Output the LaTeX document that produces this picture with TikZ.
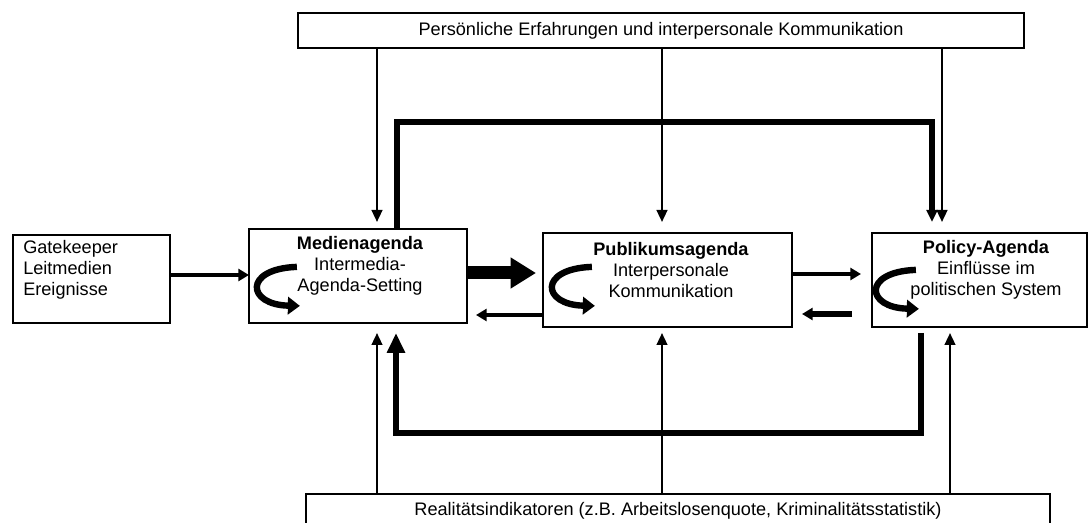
\documentclass[tikz,border=0pt]{standalone}
\usepackage{fontspec}
\setmainfont{Liberation Sans}
\usetikzlibrary{arrows.meta}
\begin{document}
\begin{tikzpicture}[x=0.75pt,y=-0.75pt,
  txt/.style={font=\fontsize{13.6}{15.75}\selectfont},
  frame/.style={draw,line width=1.7pt,inner sep=0pt},
  agbox/.style={frame,minimum height=70.5pt},
  agtext/.style={txt,align=center,inner sep=0pt},
  thinar/.style={line width=1.7pt,-{Triangle[length=9pt,width=8pt]}},
  midar/.style={line width=3pt,-{Triangle[length=8pt,width=9pt]}},
  bigar/.style={line width=9.75pt,-{Triangle[length=19pt,width=22pt]}},
  thickline/.style={line width=3.8pt},
  heavyline/.style={line width=5.2pt},
  looparrow/.style={line width=4.8pt,-{Triangle[length=9pt,width=13pt]}}
]
\useasboundingbox (0,0) rectangle (1089,523);

% information sources
\node[frame,txt,minimum width=544.5pt,minimum height=26.25pt] (pers) at (661,30.5)
  {Persönliche Erfahrungen und interpersonale Kommunikation};
\node[frame,txt,anchor=north,minimum width=558pt,text height=16pt,text depth=25pt] (real) at (678,493)
  {Realitätsindikatoren (z.B. Arbeitslosenquote, Kriminalitätsstatistik)};
\node[frame,minimum width=117.75pt,minimum height=66pt] (gate) at (91.5,279) {};
\node[txt,align=left,anchor=north west,inner sep=0pt] (gatet) at (23,240)
  {Gatekeeper\\Leitmedien\\Ereignisse};

% the three agendas
\node[agbox,minimum width=163.5pt] (med) at (358,276) {};
\node[agbox,minimum width=186.75pt] (pub) at (667.5,280) {};
\node[agbox,minimum width=161.25pt] (pol) at (979.5,280) {};

\node[agtext] (medt) at (360,266) {\textbf{Medienagenda}\\Intermedia-\\Agenda-Setting};
\node[agtext] (pubt) at (671,270) {\textbf{Publikumsagenda}\\Interpersonale\\Kommunikation};
\node[agtext] (polt) at (986,270) {\textbf{Policy-Agenda}\\Einflüsse im\\politischen System};

% self-referential loops inside the agenda boxes
\foreach \b/\dx/\dy in {med/49/39, pub/50/35, pol/45/38}{
  \draw[looparrow] ([shift={(\dx,\dy)}]\b.north west)
    .. controls ([shift={(\dx-54,\dy+2)}]\b.north west)
           and ([shift={(\dx-50,\dy+38)}]\b.north west)
    .. ([shift={(\dx+3,\dy+39)}]\b.north west);
}

% horizontal connections
\coordinate (g1) at (gate.east |- 0,275);
\coordinate (g2) at (249,275);
\draw[midar] (g1) -- (g2);
\coordinate (mp1) at (med.east |- 0,273);
\coordinate (mp2) at (536,273);
\draw[bigar] (mp1) -- (mp2);
\coordinate (pm1) at (pub.west |- 0,315);
\coordinate (pm2) at (476,315);
\draw[midar] (pm1) -- (pm2);
\coordinate (pp1) at (pub.east |- 0,274);
\coordinate (pp2) at (861,274);
\draw[midar] (pp1) -- (pp2);
\coordinate (qp1) at (852,314);
\coordinate (qp2) at (802,314);
\draw[midar,line width=4pt] (qp1) -- (qp2);

% influences from personal experience
\coordinate (t1) at (377,222);
\coordinate (t2) at (662,222);
\coordinate (t3) at (942,222);
\draw[thinar] (pers.south -| t1) -- (t1);
\draw[thinar] (pers.south -| t2) -- (t2);
\draw[thinar] (pers.south -| t3) -- (t3);

% influences from real-world indicators
\coordinate (b1) at (377,333);
\coordinate (b2) at (662,333);
\coordinate (b3) at (950,333);
\draw[thinar] (real.north -| b1) -- (b1);
\draw[thinar] (real.north -| b2) -- (b2);
\draw[thinar] (real.north -| b3) -- (b3);

% media agenda feeding the policy agenda
\coordinate (u1) at (397,122);
\coordinate (u2) at (932,122);
\coordinate (u3) at (932,222);
\draw[thickline,line join=miter,-{Triangle[length=9pt,width=8pt]}]
  (med.north -| u1) -- (u1) -- (u2) -- (u3);

% policy agenda feeding back to the media agenda
\coordinate (l0) at (921,333);
\coordinate (l1) at (921,433);
\coordinate (l2) at (396,433);
\coordinate (l3) at (396,333);
\draw[heavyline,line join=miter,-{Triangle[length=15pt,width=13pt]}]
  (l0) -- (l1) -- (l2) -- (l3);
\end{tikzpicture}
\end{document}
